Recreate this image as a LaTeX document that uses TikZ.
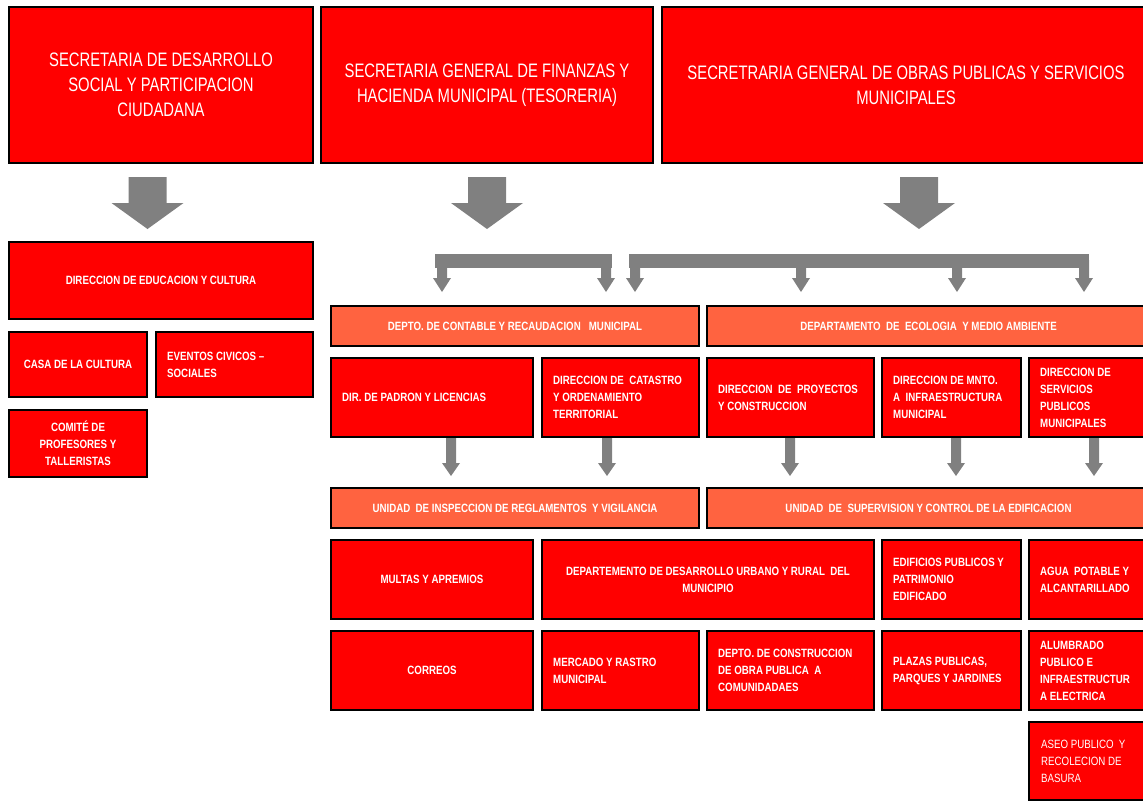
\documentclass[tikz,border=0pt]{standalone}
\usepackage{fontspec}
\setmainfont{Liberation Sans}
\newfontfamily\hdfont[FakeStretch=0.76]{Liberation Sans}
\newfontfamily\bxfont[FakeStretch=0.81]{Liberation Sans}
\definecolor{boxred}{RGB}{255,0,0}
\definecolor{boxorange}{RGB}{255,99,64}
\definecolor{arrgray}{RGB}{128,128,128}
\tikzset{
 orgbox/.style={draw=black,line width=2pt,fill=boxred,inner sep=0pt,text=white,
   font=\bxfont\bfseries\fontsize{12}{17}\selectfont,align=center},
 hdbox/.style={orgbox,font=\hdfont\fontsize{19.5}{25}\selectfont},
 obox/.style={orgbox,fill=boxorange},
 lbl/.style={text=white,inner sep=0pt,align=left,anchor=west,
   font=\bxfont\bfseries\fontsize{12}{17}\selectfont},
 arrfill/.style={fill=arrgray}
}
\newcommand\bx[7][]{%
 \pgfmathsetmacro\bxw{#5-#3}\pgfmathsetmacro\bxh{#6-#4}%
 \pgfmathsetmacro\bxcx{(#3+#5)/2}\pgfmathsetmacro\bxcy{(#4+#6)/2}%
 \node[orgbox,minimum width=\bxw pt,minimum height=\bxh pt,#1] (#2) at (\bxcx,\bxcy) {#7};}
\newcommand\bxl[7][]{%
 \bx[#1]{#2}{#3}{#4}{#5}{#6}{}%
 \node[lbl] (#2-t) at ([xshift=12pt]#2.west) {#7};}
\newcommand\bigarr[2]{%
 \coordinate (#1) at (#2,177);
 \fill[arrfill] ({#2-19},177) -- ({#2+19},177) -- ({#2+19},203) -- ({#2+36},203)
   -- (#2,229) -- ({#2-36},203) -- ({#2-19},203) -- cycle;}
\newcommand\smarr[4]{%
 \fill[arrfill] ({#1-5},#2) -- ({#1+5},#2) -- ({#1+5},#3) -- ({#1+9},#3)
   -- (#1,#4) -- ({#1-9},#3) -- ({#1-5},#3) -- cycle;}
\begin{document}
\begin{tikzpicture}[x=1pt,y=-1pt]
\useasboundingbox (0,0) rectangle (1143,803);
\clip (0,0) rectangle (1143,803);
\fill[white] (0,0) rectangle (1143,803);

% big arrows
\bigarr{arrA}{147.5}
\bigarr{arrB}{487}
\bigarr{arrC}{919}

% branch bars
\fill[arrfill] (435,254) rectangle (612,268);
\fill[arrfill] (629,254) rectangle (1089,268);
\smarr{442}{260}{278}{292}
\smarr{606}{260}{278}{292}
\smarr{635}{260}{278}{292}
\smarr{801}{260}{278}{292}
\smarr{957}{260}{278}{292}
\smarr{1084}{260}{278}{292}

% small arrows row 3 -> row 4
\smarr{451}{436}{463}{476}
\smarr{607}{436}{463}{476}
\smarr{790}{436}{463}{476}
\smarr{956}{436}{463}{476}
\smarr{1094}{436}{463}{476}

% top headers
\bx[hdbox]{topA}{9}{7}{313}{163}{SECRETARIA DE DESARROLLO\\SOCIAL Y PARTICIPACION\\CIUDADANA}
\bx[hdbox]{topB}{321}{7}{653}{163}{SECRETARIA GENERAL DE FINANZAS Y\\HACIENDA MUNICIPAL (TESORERIA)}
\bx[hdbox]{topC}{662}{7}{1150}{163}{SECRETRARIA GENERAL DE OBRAS PUBLICAS Y SERVICIOS\\MUNICIPALES}

% left column
\bx{educ}{9}{242}{313}{319}{DIRECCION DE EDUCACION Y CULTURA}
\bx{casa}{9}{332}{147}{397}{CASA DE LA CULTURA}
\bxl{eventos}{156}{332}{313}{397}{EVENTOS CIVICOS –\\SOCIALES}
\bx{comite}{9}{410}{147}{477}{COMITÉ DE\\PROFESORES Y\\TALLERISTAS}

% row 2
\bx[obox]{contable}{331}{306}{699}{346}{DEPTO. DE CONTABLE Y RECAUDACION~~ MUNICIPAL}
\bx[obox]{ecologia}{707}{306}{1150}{346}{DEPARTAMENTO~ DE~ ECOLOGIA~ Y MEDIO AMBIENTE}

% row 3
\bxl{padron}{331}{358}{533}{437}{DIR. DE PADRON Y LICENCIAS}
\bxl{catastro}{542}{358}{699}{437}{DIRECCION DE~ CATASTRO\\Y ORDENAMIENTO\\TERRITORIAL}
\bxl{proyectos}{707}{358}{874}{437}{DIRECCION~ DE~ PROYECTOS\\Y CONSTRUCCION}
\bxl{mnto}{882}{358}{1021}{437}{DIRECCION DE MNTO.\\A~ INFRAESTRUCTURA\\MUNICIPAL}
\bxl{servicios}{1029}{358}{1150}{437}{DIRECCION DE\\SERVICIOS\\PUBLICOS\\MUNICIPALES}

% row 4
\bx[obox]{inspeccion}{331}{488}{699}{528}{UNIDAD~ DE INSPECCION DE REGLAMENTOS~ Y VIGILANCIA}
\bx[obox]{supervision}{707}{488}{1150}{528}{UNIDAD~ DE~ SUPERVISION Y CONTROL DE LA EDIFICACION}

% row 5
\bx{multas}{331}{540}{533}{619}{MULTAS Y APREMIOS}
\bx{desurb}{542}{540}{874}{619}{DEPARTEMENTO DE DESARROLLO URBANO Y RURAL~ DEL\\MUNICIPIO}
\bxl{edificios}{882}{540}{1021}{619}{EDIFICIOS PUBLICOS Y\\PATRIMONIO\\EDIFICADO}
\bxl{agua}{1029}{540}{1150}{619}{AGUA~ POTABLE Y\\ALCANTARILLADO}

% row 6
\bx{correos}{331}{631}{533}{710}{CORREOS}
\bxl{mercado}{542}{631}{699}{710}{MERCADO Y RASTRO\\MUNICIPAL}
\bxl{construccion}{707}{631}{874}{710}{DEPTO. DE CONSTRUCCION\\DE OBRA PUBLICA~ A\\COMUNIDADAES}
\bxl{plazas}{882}{631}{1021}{710}{PLAZAS PUBLICAS,\\PARQUES Y JARDINES}
\bxl{alumbrado}{1029}{631}{1150}{710}{ALUMBRADO\\PUBLICO E\\INFRAESTRUCTUR\\A ELECTRICA}

% row 7
\bx{aseo}{1029}{722}{1150}{800}{}
\node[lbl,font=\bxfont\fontsize{12}{17}\selectfont] (aseo-t) at ([xshift=13pt]aseo.west) {ASEO PUBLICO~ Y\\RECOLECION DE\\BASURA};
\end{tikzpicture}
\end{document}
